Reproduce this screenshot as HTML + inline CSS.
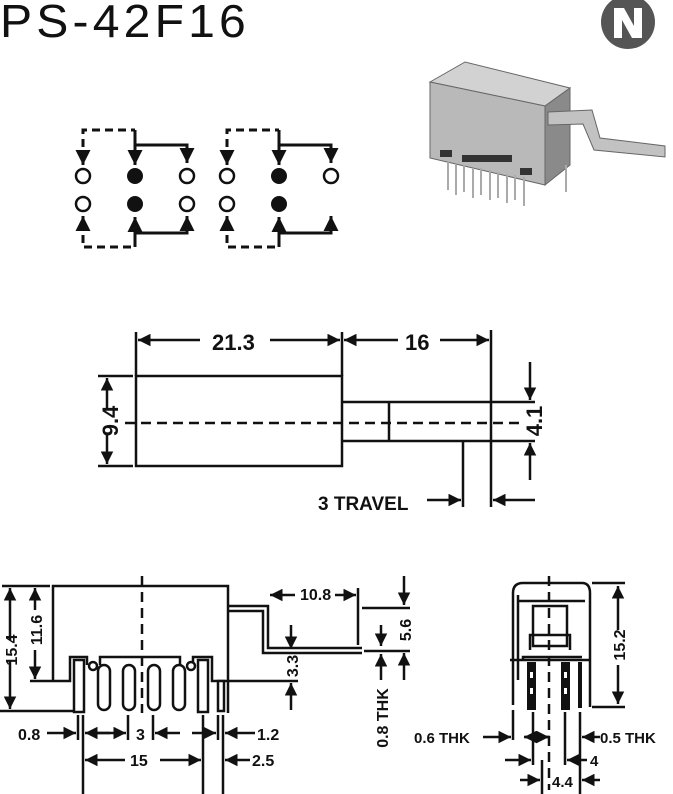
<!DOCTYPE html>
<html><head><meta charset="utf-8"><style>
html,body{margin:0;padding:0;background:#fff;}
svg{display:block;}
text{font-family:"Liberation Sans",Arial,sans-serif;font-weight:bold;fill:#111;}
</style></head><body>
<svg width="673" height="794" viewBox="0 0 673 794" xmlns="http://www.w3.org/2000/svg">
<defs>
<marker id="a" viewBox="0 0 10 10" refX="10" refY="5" markerWidth="5.2" markerHeight="5" orient="auto-start-reverse" markerUnits="strokeWidth"><path d="M0,0L10,5L0,10z" fill="#111"/></marker>
</defs>
<text x="0" y="37" font-size="46" style="font-weight:normal" letter-spacing="4" textLength="250" lengthAdjust="spacingAndGlyphs">PS-42F16</text>
<!-- logo -->
<circle cx="628" cy="22" r="27" fill="#555"/>
<path d="M614,8 L624,8 L634,26 L634,8 L642,8 L642,38 L632,38 L622,20 L622,38 L614,38 Z" fill="#fff"/>
<!-- photo -->
<g stroke="#666" stroke-width="1">
<polygon points="430,82 465,62 570,88 545,106" fill="#d2d2d2"/>
<polygon points="430,82 545,106 545,185 430,158" fill="#b9b9b9"/>
<polygon points="545,106 570,88 570,165 545,185" fill="#8a8a8a"/>
<polygon points="548,112 592,110 600,138 665,146 665,157 594,150 583,124 548,125" fill="#c2c2c2"/>
</g>
<g stroke="#aaa" stroke-width="2">
<line x1="448" y1="162" x2="448" y2="190"/><line x1="456" y1="165" x2="456" y2="195"/><line x1="464" y1="165" x2="464" y2="192"/><line x1="473" y1="168" x2="473" y2="198"/><line x1="481" y1="168" x2="481" y2="195"/><line x1="490" y1="170" x2="490" y2="200"/><line x1="498" y1="172" x2="498" y2="198"/><line x1="507" y1="174" x2="507" y2="203"/><line x1="515" y1="175" x2="515" y2="200"/><line x1="524" y1="177" x2="524" y2="206"/><line x1="566" y1="165" x2="566" y2="192"/>
</g>
<rect x="440" y="150" width="12" height="7" fill="#333"/><rect x="462" y="155" width="50" height="7" fill="#333"/><rect x="520" y="168" width="12" height="7" fill="#333"/>
<!-- schematic -->
<g fill="none" stroke="#111" stroke-width="3">
<g stroke-dasharray="8,5">
<path d="M83,160 V130 H135"/><path d="M83,222 V247 H135"/>
<path d="M227,160 V130 H279"/><path d="M227,222 V247 H279"/>
</g>
<path d="M135,130 V165" marker-end="url(#a)"/><path d="M135,145 H187 V163" marker-end="url(#a)"/>
<path d="M135,247 V217" marker-end="url(#a)"/><path d="M135,233 H187 V216" marker-end="url(#a)"/>
<path d="M279,130 V165" marker-end="url(#a)"/><path d="M279,145 H331 V163" marker-end="url(#a)"/>
<path d="M279,247 V217" marker-end="url(#a)"/><path d="M279,233 H331 V216" marker-end="url(#a)"/>
<path d="M83,156 V165" marker-end="url(#a)"/><path d="M83,224 V216" marker-end="url(#a)"/>
<path d="M227,156 V165" marker-end="url(#a)"/><path d="M227,224 V216" marker-end="url(#a)"/>
<g stroke-width="2.5">
<circle cx="83" cy="176" r="7"/><circle cx="187" cy="176" r="7"/><circle cx="83" cy="204" r="7"/><circle cx="187" cy="204" r="7"/>
<circle cx="227" cy="176" r="7"/><circle cx="331" cy="176" r="7"/><circle cx="227" cy="204" r="7"/>
</g>
</g>
<g fill="#111"><circle cx="135" cy="176" r="8"/><circle cx="135" cy="204" r="8"/><circle cx="279" cy="176" r="8"/><circle cx="279" cy="204" r="8"/></g>
<!-- middle view -->
<g fill="none" stroke="#111" stroke-width="2.5">
<rect x="136" y="376" width="206" height="90"/>
<path d="M342,402 H535 M342,441 H535 M389,402 V441 M491,330 V507 M136,332 V376 M342,332 V376 M98,376 H133 M98,466 H133 M463,441 V507"/>
<path d="M125,423 H520" stroke-dasharray="10,6"/>
<path d="M200,340 H138" marker-end="url(#a)"/><path d="M270,340 H340" marker-end="url(#a)"/>
<path d="M398,340 H344" marker-end="url(#a)"/><path d="M440,340 H489" marker-end="url(#a)"/>
<path d="M107,410 V378" marker-end="url(#a)"/><path d="M107,435 V464" marker-end="url(#a)"/>
<path d="M530,362 V400" marker-end="url(#a)"/><path d="M530,480 V443" marker-end="url(#a)"/>
<path d="M427,500 H461" marker-end="url(#a)"/><path d="M535,500 H493" marker-end="url(#a)"/>
</g>
<text x="212" y="350" font-size="22">21.3</text>
<text x="405" y="350" font-size="22">16</text>
<text transform="translate(118,421) rotate(-90)" font-size="22" text-anchor="middle">9.4</text>
<text transform="translate(542,421) rotate(-90)" font-size="22" text-anchor="middle">4.1</text>
<text x="318" y="510" font-size="19">3 TRAVEL</text>
<!-- bottom left view -->
<g fill="none" stroke="#111" stroke-width="2.5">
<path d="M53,681 V586 H228 V713"/>
<path d="M30,681 H70 V657 H87 V665 M100,665 V657 H180 V665 M193,665 V657 H212 V681 H228"/>
<path d="M0,711 H75"/>
<path d="M228,606 H268 V648 H362 M228,611 H263 V653 H362 M358,588 V645"/>
<path d="M362,608 H410 M364,651 H410 M229,681 H298"/>
<path d="M142,576 V713" stroke-dasharray="10,6"/>
<path d="M2,586 H50"/>
<path d="M10,640 V588" marker-end="url(#a)"/><path d="M10,660 V709" marker-end="url(#a)"/>
<path d="M35,610 V588" marker-end="url(#a)"/><path d="M35,650 V679" marker-end="url(#a)"/>
<path d="M295,595 H270" marker-end="url(#a)"/><path d="M335,595 H356" marker-end="url(#a)"/>
<path d="M404,576 V605" marker-end="url(#a)"/><path d="M404,680 V653" marker-end="url(#a)"/>
<path d="M381,625 V646" marker-end="url(#a)"/><path d="M381,680 V654" marker-end="url(#a)"/>
<path d="M291,625 V649" marker-end="url(#a)"/><path d="M291,710 V683" marker-end="url(#a)"/>
<path d="M78,715 V740 M83,715 V795 M128,715 V740 M153,715 V740 M203,715 V795 M218,715 V740 M223,715 V795"/>
<path d="M47,733 H76" marker-end="url(#a)"/><path d="M95,733 H126" marker-end="url(#a)"/><path d="M110,733 H85" marker-end="url(#a)"/>
<path d="M180,733 H155" marker-end="url(#a)"/><path d="M192,733 H216" marker-end="url(#a)"/><path d="M255,733 H225" marker-end="url(#a)"/>
<path d="M125,760 H85" marker-end="url(#a)"/><path d="M160,760 H201" marker-end="url(#a)"/><path d="M250,760 H225" marker-end="url(#a)"/>
</g>
<g fill="#fff" stroke="#111" stroke-width="2.5">
<rect x="74" y="660" width="10" height="52"/><rect x="98" y="665" width="12" height="45" rx="6"/><rect x="123" y="665" width="12" height="45" rx="6"/><rect x="148" y="665" width="12" height="45" rx="6"/><rect x="173" y="665" width="12" height="45" rx="6"/><rect x="198" y="660" width="10" height="52"/>
<rect x="218" y="681" width="6" height="30"/>
<circle cx="93" cy="666" r="4"/><circle cx="191" cy="666" r="4"/>
</g>
<text x="18" y="740" font-size="16">0.8</text>
<text x="136" y="740" font-size="16">3</text>
<text x="257" y="740" font-size="16">1.2</text>
<text x="130" y="766" font-size="16">15</text>
<text x="252" y="766" font-size="16">2.5</text>
<text x="300" y="600" font-size="16">10.8</text>
<text transform="translate(17,650) rotate(-90)" font-size="16" text-anchor="middle">15.4</text>
<text transform="translate(42,630) rotate(-90)" font-size="16" text-anchor="middle">11.6</text>
<text transform="translate(411,630) rotate(-90)" font-size="16" text-anchor="middle">5.6</text>
<text transform="translate(298,666) rotate(-90)" font-size="16" text-anchor="middle">3.3</text>
<text transform="translate(388,718) rotate(-90)" font-size="16" text-anchor="middle">0.8 THK</text>
<!-- right view -->
<g fill="none" stroke="#111" stroke-width="2.5">
<path d="M513,705 V593 Q513,583 523,583 H582 Q590,583 590,593 V707"/>
<path d="M518,680 V595 M518,601 H585 M510,660 H590"/>
<rect x="533" y="606" width="34" height="40"/>
<path d="M530,650 V635 H570 V650 M523,660 V657 H582"/>
<path d="M549,576 V790" stroke-dasharray="10,6"/>
<path d="M592,583 H625 M592,707 H625"/>
<path d="M618,630 V586" marker-end="url(#a)"/><path d="M618,665 V704" marker-end="url(#a)"/>
<path d="M513,710 V740 M533,712 V765 M565,712 V765 M580,712 V794 M542,760 V794"/>
<path d="M483,737 H511" marker-end="url(#a)"/><path d="M525,737 H549" marker-end="url(#a)"/>
<path d="M550,737 H524" marker-end="url(#a)"/><path d="M600,737 H582" marker-end="url(#a)"/>
<path d="M505,760 H531" marker-end="url(#a)"/><path d="M587,760 H567" marker-end="url(#a)"/>
<path d="M520,780 H540" marker-end="url(#a)"/><path d="M600,780 H582" marker-end="url(#a)"/>
</g>
<g fill="#111"><rect x="527" y="662" width="9" height="48"/><rect x="561" y="662" width="9" height="48"/><rect x="578" y="662" width="4" height="46"/></g>
<g fill="#fff"><rect x="530" y="672" width="3" height="6"/><rect x="530" y="688" width="3" height="6"/><rect x="564" y="672" width="3" height="6"/><rect x="564" y="688" width="3" height="6"/></g>
<text transform="translate(625,645) rotate(-90)" font-size="16" text-anchor="middle">15.2</text>
<text x="414" y="743" font-size="15">0.6 THK</text>
<text x="600" y="743" font-size="15">0.5 THK</text>
<text x="590" y="766" font-size="15">4</text>
<text x="552" y="787" font-size="15">4.4</text>
</svg>
</body></html>
